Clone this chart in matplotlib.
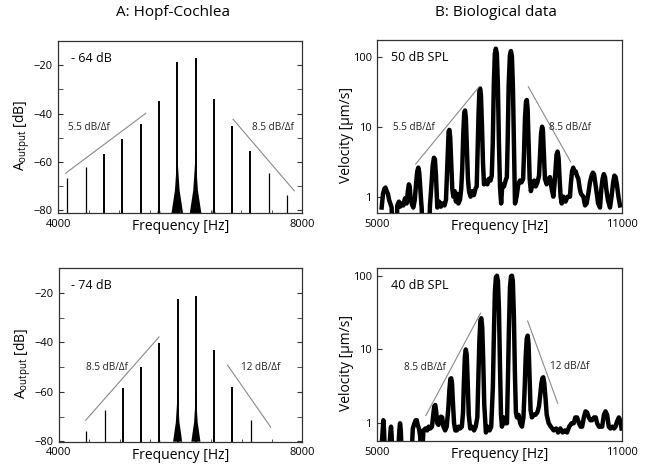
import matplotlib
matplotlib.use("Agg")
import matplotlib.pyplot as plt
from matplotlib.ticker import MultipleLocator, FixedLocator, NullLocator
import numpy as np

plt.rcParams['font.family'] = ['Open Sans', 'DejaVu Sans']
plt.rcParams['mathtext.fontset'] = 'custom'
plt.rcParams['mathtext.rm'] = 'Open Sans'

# ---- A: Hopf-Cochlea, -64 dB (top) ----
hopf_f_top = [4150, 4450, 4750, 5050, 5350, 5650, 5950, 6250, 6550, 6850, 7150, 7450, 7750]
hopf_db_top = [-66.8, -62.0, -56.7, -50.5, -44.1, -34.7, -18.8, -17.0, -33.8, -45.2, -55.5, -64.7, -73.6]
skirt_db_top = [-80, -80, -79, -79, -78, -74, -54, -54, -74, -78, -79, -80, -80]
skirt_w_top = [0, 0, 15, 15, 20, 50, 190, 190, 50, 20, 15, 0, 0]

# ---- A: Hopf-Cochlea, -74 dB (bottom) ----
hopf_f_bot = [4450, 4750, 5050, 5350, 5650, 5950, 6250, 6550, 6850, 7150]
hopf_db_bot = [-75.7, -67.4, -58.3, -49.9, -40.2, -22.4, -21.2, -43.1, -58.2, -71.4]
skirt_db_bot = [-80, -80, -79, -78, -76, -58, -58, -77, -79, -80]
skirt_w_bot = [0, 0, 15, 15, 30, 150, 150, 25, 15, 0]

# ---- B: biological data, 50 dB SPL (top), (Hz, um/s) ----
bio_top = [
    (5107, 0.7), (5140, 1.1), (5175, 1.3), (5200, 1.35), (5230, 1.2), (5260, 1.1), (5290, 0.9),
    (5320, 0.8), (5352, 0.7), (5360, 0.45), (5480, 0.45), (5491, 0.75), (5530, 0.85), (5560, 0.72),
    (5600, 0.8), (5639, 0.75), (5680, 0.95), (5720, 0.8), (5750, 1.2), (5775, 1.5), (5795, 1.4),
    (5820, 0.9), (5860, 0.75), (5884, 0.7),
    (5920, 0.9), (5950, 1.5), (5980, 2.3), (6007, 2.6), (6030, 2.2), (6055, 1.3), (6080, 0.8),
    (6089, 0.7), (6100, 0.45), (6280, 0.45),
    (6293, 0.75), (6330, 1.5), (6360, 2.8), (6390, 3.6), (6415, 3.4), (6440, 2.0), (6460, 1.0),
    (6473, 0.7), (6520, 0.85), (6560, 0.72), (6600, 0.8), (6650, 0.75), (6686, 0.9),
    (6700, 1.5), (6725, 4.0), (6750, 8.5), (6770, 9.0), (6790, 7.0), (6815, 3.0), (6840, 1.3),
    (6866, 1.0), (6900, 1.2), (6930, 0.85), (6960, 1.1), (6990, 0.8), (7030, 0.9), (7060, 1.3),
    (7085, 2.5), (7110, 8.0), (7135, 16.0), (7155, 17.0), (7175, 13.0), (7200, 5.0), (7225, 1.8),
    (7251, 1.2), (7290, 1.0), (7330, 1.2), (7370, 1.05), (7410, 1.3), (7440, 1.4),
    (7460, 4.0), (7485, 15.0), (7505, 32.0), (7525, 35.0), (7545, 28.0), (7570, 10.0), (7595, 3.0),
    (7619, 1.5), (7660, 1.7), (7700, 1.5), (7740, 1.8), (7780, 1.7), (7810, 2.0),
    (7835, 6.0), (7860, 40.0), (7885, 110.0), (7910, 130.0), (7935, 110.0), (7960, 40.0),
    (7985, 6.0), (8012, 1.4), (8040, 0.8), (8070, 1.5), (8110, 1.4), (8150, 1.7), (8180, 1.9),
    (8200, 6.0), (8225, 40.0), (8255, 105.0), (8280, 120.0), (8305, 100.0), (8330, 35.0),
    (8355, 5.0), (8380, 0.8), (8420, 1.0), (8460, 1.5), (8500, 1.7), (8540, 1.6), (8580, 1.8),
    (8600, 4.0), (8625, 13.0), (8650, 23.0), (8670, 24.0), (8690, 18.0), (8715, 6.0), (8740, 1.8),
    (8770, 1.2), (8810, 1.5), (8850, 1.7), (8890, 1.4), (8930, 1.6), (8970, 2.0),
    (8995, 4.0), (9020, 8.0), (9045, 10.0), (9065, 9.0), (9090, 4.0), (9115, 1.8), (9157, 1.5),
    (9200, 1.8), (9239, 1.9), (9280, 1.3), (9321, 1.0), (9350, 1.5),
    (9375, 2.5), (9400, 4.0), (9425, 4.4), (9450, 3.6), (9475, 1.8), (9500, 1.0), (9526, 0.8),
    (9570, 1.0), (9620, 0.85), (9670, 1.0), (9730, 1.0), (9750, 1.5),
    (9780, 2.3), (9810, 2.6), (9840, 2.2), (9870, 2.3), (9900, 2.0), (9935, 1.8), (9970, 1.3),
    (10000, 1.1), (10058, 1.0), (10100, 0.75), (10139, 0.8), (10180, 1.1),
    (10220, 1.6), (10260, 2.0), (10290, 2.2), (10320, 2.1), (10350, 1.6), (10380, 1.2),
    (10420, 0.8), (10467, 0.7),
    (10500, 1.3), (10530, 1.8), (10560, 2.1), (10590, 1.9), (10620, 1.3), (10660, 0.9), (10712, 0.7),
    (10750, 1.0), (10790, 1.6), (10820, 2.0), (10850, 1.9), (10880, 1.5), (10920, 1.0), (10958, 0.75),
]

# ---- B: biological data, 40 dB SPL (bottom), (Hz, um/s) ----
bio_bot = [
    (5107, 0.5), (5130, 0.8), (5148, 1.1), (5165, 0.8), (5180, 0.5), (5300, 0.5), (5320, 0.75),
    (5336, 0.9), (5350, 0.7), (5360, 0.5), (5520, 0.5), (5540, 0.8), (5557, 1.0), (5575, 0.8),
    (5590, 0.5), (5850, 0.5), (5870, 0.85), (5910, 1.0), (5940, 1.1), (5966, 1.1), (5990, 0.95),
    (6020, 0.85), (6045, 0.7), (6064, 0.5), (6110, 0.5), (6130, 0.8), (6180, 0.85), (6220, 0.8),
    (6260, 0.9), (6300, 0.85), (6340, 0.9),
    (6370, 1.3), (6395, 1.7), (6420, 1.77), (6445, 1.4), (6470, 1.0), (6498, 0.95), (6530, 1.1),
    (6560, 1.23), (6590, 1.2), (6620, 0.9), (6662, 0.8), (6700, 0.9),
    (6740, 1.6), (6765, 2.8), (6790, 4.0), (6810, 4.07), (6830, 3.5), (6855, 1.8), (6880, 1.0),
    (6910, 0.8), (6948, 0.8), (6990, 0.9), (7030, 0.85), (7071, 0.9), (7100, 1.4),
    (7120, 3.5), (7145, 8.0), (7168, 10.0), (7190, 8.5), (7215, 3.5), (7240, 1.3), (7275, 0.85),
    (7320, 0.9), (7370, 0.8), (7410, 0.9), (7450, 1.2),
    (7475, 4.0), (7500, 13.0), (7525, 25.0), (7548, 26.5), (7570, 20.0), (7595, 7.0), (7620, 1.8),
    (7660, 0.75), (7700, 0.9), (7750, 0.8), (7790, 0.9),
    (7830, 3.0), (7855, 15.0), (7880, 60.0), (7905, 95.0), (7930, 100.0), (7955, 85.0),
    (7980, 35.0), (8005, 6.0), (8030, 1.3), (8053, 0.9), (8090, 1.2), (8130, 1.0), (8176, 1.0),
    (8200, 4.0), (8225, 20.0), (8250, 70.0), (8275, 98.0), (8298, 100.0), (8320, 85.0),
    (8345, 30.0), (8370, 5.0), (8395, 1.4), (8421, 1.2), (8460, 1.3), (8500, 1.0), (8544, 0.9),
    (8580, 1.2),
    (8610, 3.0), (8635, 8.0), (8660, 14.0), (8683, 15.4), (8705, 12.0), (8730, 4.0), (8755, 1.5),
    (8789, 1.2), (8830, 1.3), (8871, 1.3), (8920, 1.4), (8960, 1.7),
    (8990, 2.4), (9020, 3.5), (9045, 4.1), (9065, 4.2), (9090, 3.5), (9120, 2.2), (9150, 1.3),
    (9198, 1.0), (9250, 0.9), (9321, 0.8), (9380, 0.85), (9430, 0.75), (9485, 0.85), (9540, 0.75),
    (9600, 0.8), (9648, 0.75), (9700, 0.9), (9760, 1.0), (9812, 1.0), (9850, 1.2), (9894, 1.2),
    (9940, 1.0), (9980, 0.9), (10017, 0.9), (10060, 1.2), (10100, 1.45), (10139, 1.4),
    (10180, 1.2), (10220, 1.1), (10262, 1.1), (10310, 1.2), (10350, 1.2), (10385, 1.0),
    (10430, 0.9), (10470, 0.9), (10508, 0.9), (10550, 1.3), (10590, 1.45), (10630, 1.3),
    (10670, 0.9), (10712, 0.85), (10760, 0.9), (10800, 0.85), (10835, 0.9), (10870, 1.05),
    (10917, 1.2), (10950, 1.1), (10982, 0.85),
]

grey = '#8a8a8a'
spine_c = '#333333'

fig = plt.figure(figsize=(6.53, 4.68), dpi=100)
axA1 = fig.add_axes([0.0893, 0.5442, 0.3737, 0.368])
axB1 = fig.add_axes([0.5778, 0.5449, 0.3743, 0.3697])
axA2 = fig.add_axes([0.0904, 0.0562, 0.3726, 0.3705])
axB2 = fig.add_axes([0.5778, 0.0577, 0.3751, 0.369])


def style_frame(ax):
    for s in ax.spines.values():
        s.set_color(spine_c)
        s.set_linewidth(0.9)
    ax.tick_params(which='both', direction='in', labelsize=8, pad=4, color=spine_c)


def draw_hopf(ax, freqs, amps, skirt_db, skirt_w, bottom, label, slopes, notes):
    for f, a, sd, w in zip(freqs, amps, skirt_db, skirt_w):
        lw = 1.4 if a > -60 else 0.9
        ax.vlines(f, bottom, a, color='black', lw=lw)
        if w > 0:
            xs = f + w * np.array([-0.5, -0.2, -0.05, 0, 0.05, 0.2, 0.5])
            ys = bottom + (sd - bottom) * np.array([0, 0.35, 0.75, 1, 0.75, 0.35, 0])
            ax.fill(xs, ys, color='black', lw=0)
    ax.set_xlim(4000, 8000)
    ax.set_ylim(bottom, -10)
    ax.set_xticks([4000, 8000])
    ax.set_xticklabels(['4000', '8000'])
    ax.xaxis.set_minor_locator(MultipleLocator(500))
    ax.set_yticks([-80, -60, -40, -20])
    ax.yaxis.set_minor_locator(MultipleLocator(10))
    style_frame(ax)
    ax.tick_params(which='both', right=True)
    ax.tick_params(axis='y', which='both', length=3.5)
    ax.tick_params(axis='x', which='major', length=0)
    ax.tick_params(axis='x', which='minor', length=2)
    ax.text(0.05, 0.9, label, transform=ax.transAxes, fontsize=9, va='center', ha='left')
    for (x0, y0, x1, y1) in slopes:
        ax.plot([x0, x1], [y0, y1], color=grey, lw=0.8)
    for (x, y, t) in notes:
        ax.text(x, y, t, fontsize=7.2, va='center', ha='left', color='#222222')
    ax.set_xlabel('Frequency [Hz]', fontsize=10)
    ax.xaxis.set_label_coords(0.5, -0.035)
    ax.text(-0.149, 0.45, r'A$_\mathregular{output}$ [dB]', transform=ax.transAxes,
            rotation=90, ha='center', va='center', fontsize=10)


def draw_bio(ax, pts, ylim, label, slopes, notes):
    freqs = [p[0] for p in pts]
    vels = [p[1] for p in pts]
    ax.plot(freqs, vels, color='black', lw=3.2, solid_joinstyle='round')
    ax.set_yscale('log')
    ax.set_xlim(5000, 11000)
    ax.set_ylim(*ylim)
    ax.yaxis.set_major_locator(FixedLocator([1, 10, 100]))
    ax.yaxis.set_minor_locator(NullLocator())
    ax.set_yticklabels(['1', '10', '100'])
    ax.set_xticks([5000, 11000])
    ax.set_xticklabels(['5000', '11000'])
    style_frame(ax)
    ax.tick_params(axis='y', length=3.5)
    ax.tick_params(axis='x', length=0)
    ax.text(0.055, 0.9, label, transform=ax.transAxes, fontsize=9, va='center', ha='left')
    for (x0, y0, x1, y1) in slopes:
        ax.plot([x0, x1], [y0, y1], color=grey, lw=0.8)
    for (x, y, t) in notes:
        ax.text(x, y, t, fontsize=7.2, va='center', ha='left', color='#222222')
    ax.set_xlabel('Frequency [Hz]', fontsize=10)
    ax.xaxis.set_label_coords(0.5, -0.035)
    ax.text(-0.125, 0.45, 'Velocity [µm/s]', transform=ax.transAxes,
            rotation=90, ha='center', va='center', fontsize=10)


draw_hopf(axA1, hopf_f_top, hopf_db_top, skirt_db_top, skirt_w_top, -81.2, '- 64 dB',
          [(4121, -64.6, 5432, -39.9), (6864, -42.3, 7868, -71.9)],
          [(4164, -45.7, '5.5 dB/Δf'), (7180, -45.7, '8.5 dB/Δf')])
draw_hopf(axA2, hopf_f_bot, hopf_db_bot, skirt_db_bot, skirt_w_bot, -80.2, '- 74 dB',
          [(4439, -71.5, 5644, -37.8), (6773, -49.3, 7480, -74.3)],
          [(4444, -50.1, '8.5 dB/Δf'), (6987, -50.1, '12 dB/Δf')])
draw_bio(axB1, bio_top, (0.585, 173), '50 dB SPL',
         [(5943, 2.93, 7489, 36.5), (8707, 37.2, 9748, 3.13)],
         [(5378, 9.8, '5.5 dB/Δf'), (9215, 9.8, '8.5 dB/Δf')])
draw_bio(axB2, bio_bot, (0.575, 126), '40 dB SPL',
         [(6188, 1.27, 7529, 31.0), (8683, 24.3, 9419, 1.87)],
         [(5663, 5.74, '8.5 dB/Δf'), (9222, 5.86, '12 dB/Δf')])

fig.text(0.2645, 0.973, 'A: Hopf-Cochlea', ha='center', va='center', fontsize=11)
fig.text(0.7596, 0.973, 'B: Biological data', ha='center', va='center', fontsize=11)

fig.savefig('out.png', dpi=100)
